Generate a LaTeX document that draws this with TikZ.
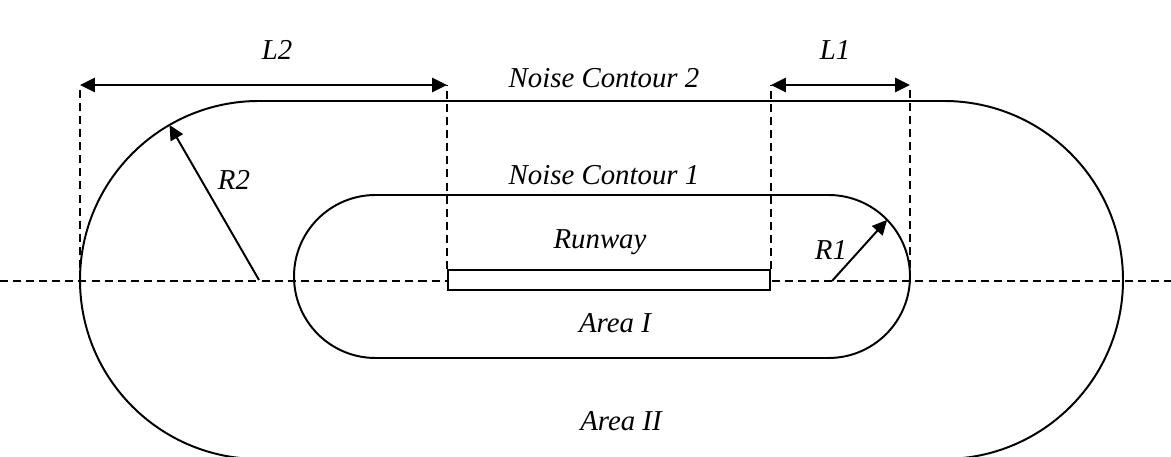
\documentclass[tikz,border=0pt]{standalone}
\usepackage{fontspec}
\setmainfont{Liberation Serif}
\usetikzlibrary{positioning,arrows.meta,calc}

\begin{document}
\begin{tikzpicture}[
  x=0.025cm, y=0.025cm,
  contour/.style={line width=1.4pt},
  axisline/.style={line width=1.4pt, dash pattern=on 5.7pt off 3.6pt},
  dimline/.style={line width=1.4pt, {Triangle[length=10.5pt,width=10pt]}-{Triangle[length=10.5pt,width=10pt]}},
  radline/.style={line width=1.4pt, -{Triangle[length=10.5pt,width=10pt]}},
  lab/.style={font=\fontsize{20.5}{24}\selectfont\itshape, anchor=base, inner sep=0pt},
  runwaybox/.style={draw, fill=white, line width=1.4pt, minimum width=8.05cm, minimum height=0.5cm, inner sep=0pt}]
\useasboundingbox (0,0) rectangle (1171,457);
\clip (0,0) rectangle (1171,457);
% arc centres and the centre line
\coordinate (c2w) at (259,177);
\coordinate (c2e) at (944,177);
\coordinate (c1w) at (375.5,180.5);
\coordinate (c1e) at (828.5,180.5);
\coordinate (axw) at (0,176);
\coordinate (axe) at (1171,176);
\coordinate (dimrow) at (0,372);
\draw[axisline] (axw) -- (axe);
% the two contours
\draw[contour] ($(c2w)+(0,179)$) -- ($(c2e)+(0,179)$) arc[start angle=90, end angle=-90, radius=179]
  -- ($(c2w)+(0,-179)$) arc[start angle=270, end angle=90, radius=179] -- cycle;
\draw[contour] ($(c1w)+(0,81.5)$) -- ($(c1e)+(0,81.5)$) arc[start angle=90, end angle=-90, radius=81.5]
  -- ($(c1w)+(0,-81.5)$) arc[start angle=270, end angle=90, radius=81.5] -- cycle;
\node[runwaybox] (runway) at (609,177) {};
% extension lines
\coordinate (l2w) at (80,176);
\coordinate (l1e) at (910,176);
\draw[axisline] (l2w) -- (l2w |- dimrow);
\draw[axisline] (runway.north west) -- (runway.north west |- dimrow);
\draw[axisline] (runway.north east) -- (runway.north east |- dimrow);
\draw[axisline] (l1e) -- (l1e |- dimrow);
% dimensions
\draw[dimline] (l2w |- dimrow) -- (runway.north west |- dimrow);
\draw[dimline] (runway.north east |- dimrow) -- (l1e |- dimrow);
\draw[radline] (c2w) -- ++(120:179);
\draw[radline] (832,176) -- ($(c1e)+(44:81.5)$);
% labels
\node[lab] (l2lab) at (277,397) {L2};
\node[lab] (l1lab) at (835,397) {L1};
\node[lab] (r2lab) at (234,267) {R2};
\node[lab] (r1lab) at (831,197) {R1};
\node[lab] (nc2) at (604,369) {Noise Contour 2};
\node[lab] (nc1) at (604,272) {Noise Contour 1};
\node[lab] (rwlab) at (600,208) {Runway};
\node[lab] (area1) at (615,124) {Area I};
\node[lab] (area2) at (621,26) {Area II};
\end{tikzpicture}
\end{document}
